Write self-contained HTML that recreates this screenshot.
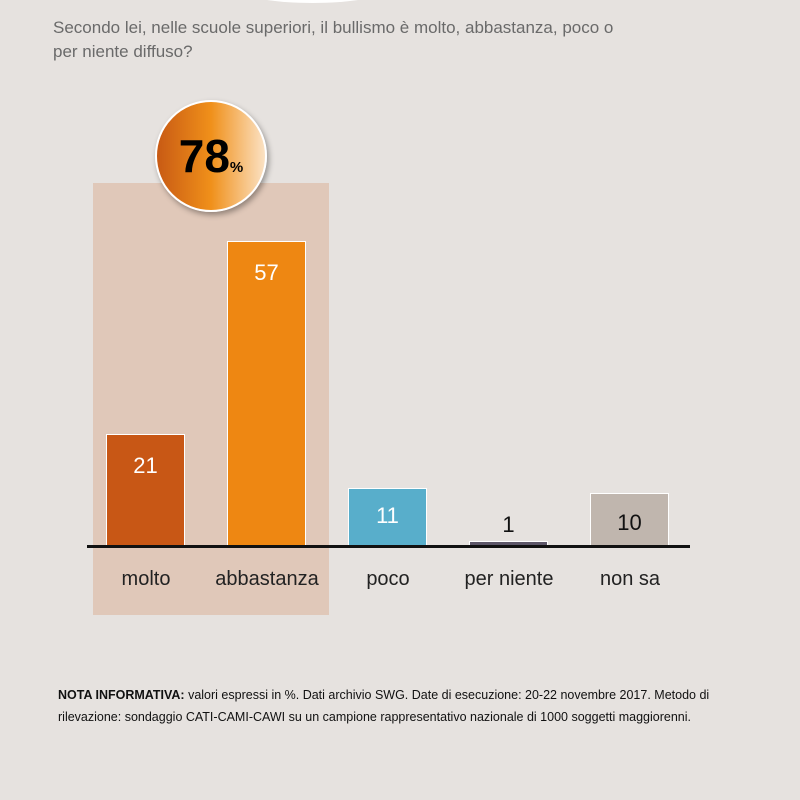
<!DOCTYPE html>
<html><head><style>
body{margin:0;width:800px;height:800px;background:#e6e2df;position:relative;overflow:hidden;font-family:"Liberation Sans",sans-serif}
.a{position:absolute}
.bar{position:absolute;width:79px;border:1px solid #fff;border-bottom:none;box-sizing:border-box;text-align:center;font-size:22px;color:#fff}
.lab{position:absolute;top:568px;width:140px;text-align:center;font-size:20px;color:#222}
</style></head><body>
<div class="a" style="left:245px;top:-20px;width:135px;height:23px;background:#fff;border-radius:50%"></div>
<div class="a" style="left:53px;top:16px;font-size:17px;line-height:24px;color:#6a6a6a;width:620px">Secondo lei, nelle scuole superiori, il bullismo è molto, abbastanza, poco o<br>per niente diffuso?</div>
<div class="a" style="left:93px;top:183px;width:236px;height:432px;background:#e0c8b9"></div>
<div class="bar" style="left:106px;top:434px;height:112px;background:#c85715;padding-top:18px">21</div>
<div class="bar" style="left:227px;top:241px;height:305px;background:#ee8712;padding-top:18px">57</div>
<div class="bar" style="left:348px;top:488px;height:58px;background:#58aecb;padding-top:14px">11</div>
<div class="bar" style="left:469px;top:541px;height:5px;background:#5d5668"></div>
<div class="a" style="left:469px;top:512px;width:79px;text-align:center;font-size:22px;color:#111">1</div>
<div class="bar" style="left:590px;top:493px;height:53px;background:#c0b6ae;padding-top:16px;color:#111">10</div>
<div class="a" style="left:87px;top:545px;width:603px;height:3px;background:#111"></div>
<div class="lab" style="left:76px">molto</div>
<div class="lab" style="left:197px">abbastanza</div>
<div class="lab" style="left:318px">poco</div>
<div class="lab" style="left:439px">per niente</div>
<div class="lab" style="left:560px">non sa</div>
<div class="a" style="left:155px;top:100px;width:108px;height:108px;border-radius:50%;border:2px solid #fff;background:linear-gradient(90deg,#c85a14 0%,#f0901a 50%,#fbe2c4 100%);box-shadow:2px 3px 6px rgba(0,0,0,.35);text-align:center;line-height:108px;font-weight:bold;font-size:46px;color:#000">78<span style="font-size:15px">%</span></div>
<div class="a" style="left:58px;top:684px;width:700px;font-size:12.5px;line-height:22px;color:#111"><b>NOTA INFORMATIVA:</b> valori espressi in %. Dati archivio SWG. Date di esecuzione: 20-22 novembre 2017. Metodo di rilevazione: sondaggio CATI-CAMI-CAWI su un campione rappresentativo nazionale di 1000 soggetti maggiorenni.</div>
</body></html>
